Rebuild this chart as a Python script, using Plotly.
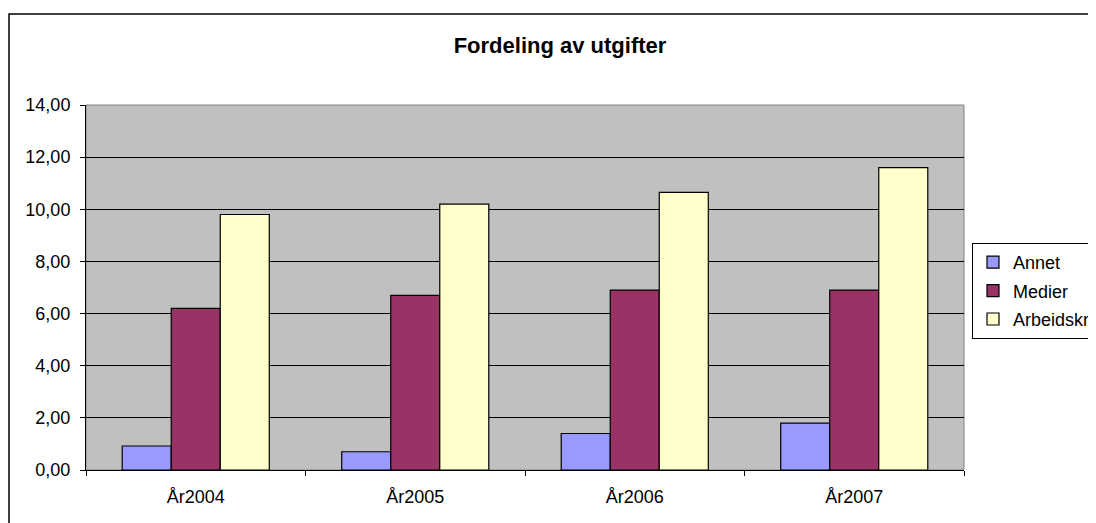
import plotly.graph_objects as go

categories = ["År2004", "År2005", "År2006", "År2007"]
annet = [0.92, 0.70, 1.40, 1.80]
medier = [6.20, 6.70, 6.90, 6.90]
arbeidskraft = [9.80, 10.20, 10.65, 11.60]
y_ticks = [0, 2, 4, 6, 8, 10, 12, 14]

OFF = 8  # page body margin
W, H = 1096 - OFF, 523 - OFF
L, R, T, B = 86 - OFF, 964 - OFF, 105 - OFF, 470 - OFF
pw, ph = R - L, B - T

def px_x(x):
    return (x - OFF - L) / pw

def px_y(y):
    return (B - (y - OFF)) / ph

FONT = "Liberation Sans, Arial, sans-serif"

fig = go.Figure()
series = [("Annet", annet, "#9999FF"), ("Medier", medier, "#993366"),
          ("Arbeidskraft", arbeidskraft, "#FFFFCC")]
for name, vals, col in series:
    fig.add_trace(go.Bar(x=categories, y=vals, name=name, legendgroup=name,
                         marker=dict(color=col, line=dict(color="#000000", width=1.2))))

fig.update_layout(
    width=W, height=H,
    margin=dict(l=L, r=W - R, t=T, b=H - B, autoexpand=False),
    paper_bgcolor="white", plot_bgcolor="#C0C0C0",
    barmode="group", bargap=0.33, bargroupgap=0,
    separators=", ",
    font=dict(family=FONT, size=18, color="#000000"),
    title=dict(text="<b>Fordeling av utgifter</b>", x=(560 - OFF) / W, xanchor="center",
               y=1 - (45 - OFF) / H, yanchor="middle", font=dict(family=FONT, size=22)),
    legend=dict(x=px_x(972), xanchor="left", y=px_y(243), yanchor="top",
                bgcolor="white", bordercolor="#000000", borderwidth=1,
                font=dict(family=FONT, size=18), traceorder="grouped",
                tracegroupgap=2),
    showlegend=True,
)
fig.update_xaxes(showline=True, linecolor="#000000", linewidth=1,
                 ticks="outside", tickson="boundaries", ticklen=5, tickcolor="#000000",
                 showgrid=False, tickfont=dict(size=18), ticklabelstandoff=10)
fig.update_yaxes(range=[0, 14], tickvals=y_ticks, tickformat=".2f",
                 showline=True, linecolor="#000000", linewidth=1,
                 ticks="outside", ticklen=5, tickcolor="#000000",
                 showgrid=True, gridcolor="#000000", gridwidth=1, zeroline=False,
                 tickfont=dict(size=18), ticklabelstandoff=6)

# plot-area border (gray) and outer chart border (black)
fig.add_shape(type="rect", xref="paper", yref="paper", x0=0, x1=1, y0=0, y1=1,
              line=dict(color="#808080", width=1), layer="below")
fig.add_shape(type="rect", xref="paper", yref="paper",
              x0=px_x(9), x1=px_x(1110), y0=px_y(540), y1=px_y(14),
              line=dict(color="#000000", width=1.5), layer="above")

fig.write_html("out.html")
